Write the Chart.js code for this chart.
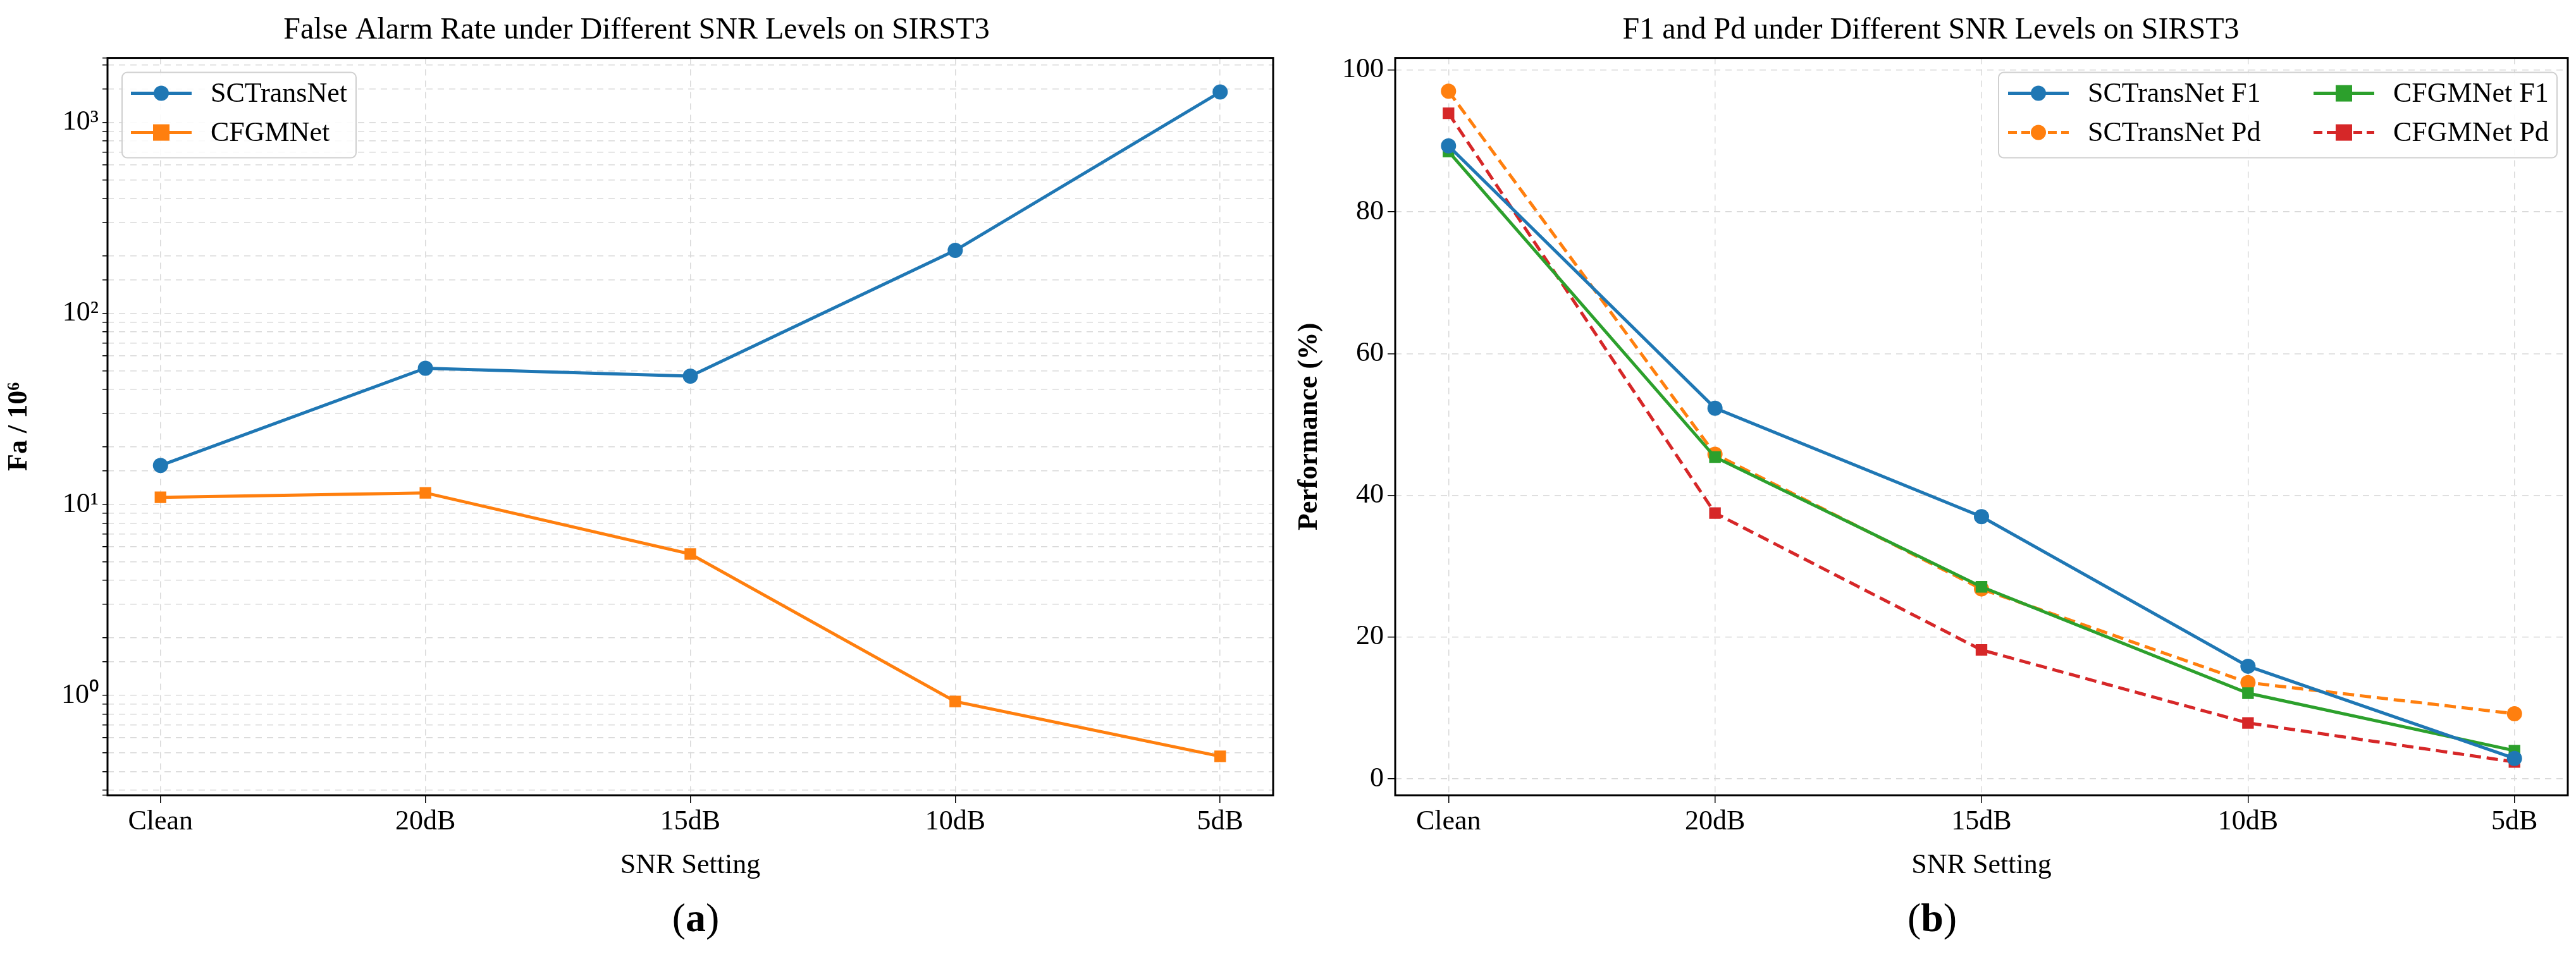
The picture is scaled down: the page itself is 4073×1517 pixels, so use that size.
<!DOCTYPE html>
<html><head><meta charset="utf-8">
<script src="https://cdn.jsdelivr.net/npm/chart.js@4"></script>
<style>
body{margin:0;background:#fff;width:4073px;height:1517px;position:relative;overflow:hidden;font-family:"Liberation Serif",serif}
.box{position:absolute;top:0;height:1400px}
.cap{position:absolute;top:1415px;font-size:64px;width:200px;text-align:center}
</style></head><body>
<div class="box" style="left:0;width:2040px"><canvas id="fa" width="2040" height="1400"></canvas></div>
<div class="box" style="left:2040px;width:2033px"><canvas id="pf" width="2033" height="1400"></canvas></div>
<div class="cap" style="left:1000px">(<b>a</b>)</div>
<div class="cap" style="left:2955px">(<b>b</b>)</div>
<script>
const snrLabels = ['Clean', '20dB', '15dB', '10dB', '5dB'];
const faSCTransNet = [16, 51.7, 47, 214, 1445];
const faCFGMNet = [10.9, 11.5, 5.5, 0.93, 0.48];
const f1SCTransNet = [89.3, 52.3, 37, 15.9, 2.9];
const pdSCTransNet = [97, 45.8, 26.8, 13.6, 9.2];
const f1CFGMNet = [88.5, 45.4, 27.1, 12.1, 4];
const pdCFGMNet = [93.9, 37.5, 18.2, 7.9, 2.4];

const FONT = 'Liberation Serif';
const pts = arr => arr.map((v, i) => ({x: i, y: v}));

function ds(label, arr, color, shape, dash) {
  return {
    label, data: pts(arr), borderColor: color, backgroundColor: color,
    borderWidth: 5, borderDash: dash || [], pointStyle: shape,
    pointRadius: shape === 'rect' ? 13 : 12, pointHoverRadius: 12,
    pointBorderWidth: 0, tension: 0
  };
}

// frame + manual matplotlib-like legend
const framePlugin = {
  id: 'frame',
  afterDraw(chart, args, opts) {
    const c = chart.ctx, a = chart.chartArea;
    c.save();
    c.strokeStyle = '#000'; c.lineWidth = 3;
    c.strokeRect(a.left, a.top, a.right - a.left, a.bottom - a.top);
    const L = opts.legend;
    c.fillStyle = 'rgba(255,255,255,0.85)';
    c.strokeStyle = '#d0d0d0'; c.lineWidth = 2;
    c.beginPath();
    c.roundRect(L.x, a.top + 23, L.w, 135, 8);
    c.fill(); c.stroke();
    c.font = '44px "' + FONT + '"';
    c.textBaseline = 'middle';
    L.items.forEach(it => {
      const d = chart.data.datasets[it.i];
      const y = a.top + it.dy;
      c.strokeStyle = d.borderColor; c.lineWidth = 5;
      c.setLineDash(d.borderDash.length ? [14, 7] : []);
      c.beginPath(); c.moveTo(it.x, y); c.lineTo(it.x + 96, y); c.stroke();
      c.setLineDash([]);
      c.fillStyle = d.borderColor;
      if (d.pointStyle === 'rect') c.fillRect(it.x + 48 - 13, y - 13, 26, 26);
      else { c.beginPath(); c.arc(it.x + 48, y, 12, 0, Math.PI * 2); c.fill(); }
      c.fillStyle = '#000';
      c.fillText(d.label, it.x + 126, y + 2);
    });
    c.restore();
  }
};

const grid = {color: '#d9d9d9', lineWidth: 1.5, tickColor: '#000', tickLength: 12, drawTicks: true};
const tickFont = {family: FONT, size: 44};

function xScale() {
  return {
    type: 'linear', min: -0.2, max: 4.2,
    afterFit: s => { s.height = 142; },
    afterBuildTicks: s => { s.ticks = snrLabels.map((_, i) => ({value: i})); },
    ticks: {callback: v => snrLabels[v], font: tickFont, color: '#000', padding: 4, maxRotation: 0},
    grid: Object.assign({}, grid),
    border: {dash: [10, 8], display: false},
    title: {display: true, text: 'SNR Setting', font: tickFont, color: '#000', padding: {top: 0}}
  };
}

function baseOpts(yscale, legend, padRight) {
  return {
    responsive: false, animation: false,
    layout: {padding: {right: padRight, top: 0, left: 0, bottom: 0}},
    plugins: {
      legend: {display: false}, tooltip: {enabled: false},
      title: {display: true, text: '', font: {family: FONT, size: 48, weight: 'normal'}, color: '#000', padding: {top: 20, bottom: 14}},
      frame: {legend}
    },
    scales: {x: xScale(), y: yscale}
  };
}

const sup = {'0': '⁰', '1': '¹', '2': '²', '3': '³'};
const faOpts = baseOpts({
  type: 'logarithmic', min: 0.32, max: 2180,
  afterFit: s => { s.width = 170; },
  ticks: {
    font: tickFont, color: '#000', padding: 6, autoSkip: false,
    callback: v => { const e = Math.log10(v); return Math.abs(e - Math.round(e)) < 1e-9 ? '10' + sup[String(Math.round(e))] : ''; }
  },
  grid: Object.assign({}, grid, {tickLength: 8}),
  border: {dash: [10, 8], display: false},
  title: {display: true, text: 'Fa / 10⁶', font: {family: FONT, size: 44, weight: 'bold'}, color: '#000', padding: {bottom: 4}}
}, {x: 193, w: 370, items: [{i: 0, x: 207, dy: 56}, {i: 1, x: 207, dy: 118}]}, 27);
faOpts.plugins.title.text = 'False Alarm Rate under Different SNR Levels on SIRST3';

new Chart(document.getElementById('fa'), {
  type: 'line',
  data: {datasets: [
    ds('SCTransNet', faSCTransNet, '#1f77b4', 'circle'),
    ds('CFGMNet', faCFGMNet, '#ff7f0e', 'rect')
  ]},
  options: faOpts,
  plugins: [framePlugin]
});

const pfOpts = baseOpts({
  type: 'linear', min: -2.3, max: 101.7,
  afterFit: s => { s.width = 166; },
  afterBuildTicks: s => { s.ticks = [0, 20, 40, 60, 80, 100].map(v => ({value: v})); },
  ticks: {font: tickFont, color: '#000', padding: 6},
  grid: Object.assign({}, grid),
  border: {dash: [10, 8], display: false},
  title: {display: true, text: 'Performance (%)', font: {family: FONT, size: 44, weight: 'bold'}, color: '#000', padding: {bottom: 4}}
}, {x: 1120, w: 883, items: [{i: 0, x: 1135, dy: 56}, {i: 2, x: 1135, dy: 118}, {i: 1, x: 1618, dy: 56}, {i: 3, x: 1618, dy: 118}]}, 7);
pfOpts.plugins.title.text = 'F1 and Pd under Different SNR Levels on SIRST3';

new Chart(document.getElementById('pf'), {
  type: 'line',
  data: {datasets: [
    ds('SCTransNet F1', f1SCTransNet, '#1f77b4', 'circle'),
    ds('CFGMNet F1', f1CFGMNet, '#2ca02c', 'rect'),
    ds('SCTransNet Pd', pdSCTransNet, '#ff7f0e', 'circle', [18, 9]),
    ds('CFGMNet Pd', pdCFGMNet, '#d62728', 'rect', [18, 9])
  ]},
  options: pfOpts,
  plugins: [framePlugin]
});
</script>
</body></html>
